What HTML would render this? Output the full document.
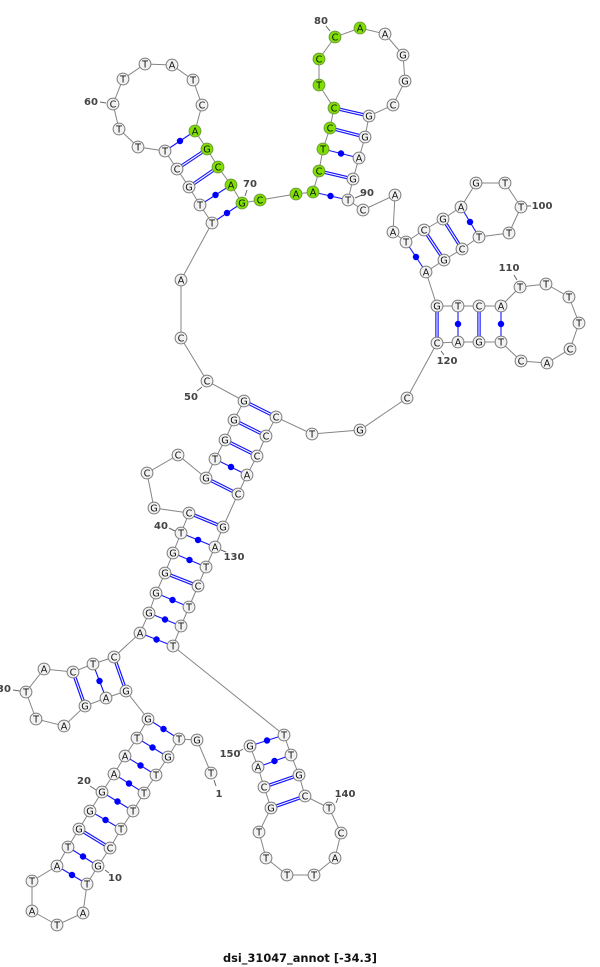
<!DOCTYPE html>
<html><head><meta charset="utf-8"><style>
html,body{margin:0;padding:0;background:#fff}
svg{display:block;font-family:"DejaVu Sans","Liberation Sans",sans-serif}
.n circle{fill:#f2f2f2;stroke:#7a7a7a;stroke-width:1;r:5.9px}
.g circle{fill:#7fe000;stroke:#6f9a3a;stroke-width:1;r:5.9px}
.n text,.g text{font-size:9.6px;text-anchor:middle;fill:#111;transform:translateY(.5px)}
.l{font-size:10px;font-weight:bold;fill:#444;text-anchor:middle;font-family:"DejaVu Sans",sans-serif}
</style></head><body>
<svg width="600" height="967" viewBox="0 0 600 967" xmlns="http://www.w3.org/2000/svg">
<polyline fill="none" stroke="#858585" stroke-width="1" points="211,773 197,740 179,739 168,757 156,775 144,793 133,811 121,829 110,848 98,866 87,884 83,913 57,925 32,911 32,881 57,866 68,847 79,829 90,811 102,792 114,774 125,756 137,738 148,719 126,691 106,698 85,706 64,726 36,719 26,692 44,669 73,672 93,664 114,657 140,633 149,613 156,593 165,573 173,553 181,533 189,513 154,508 147,473 178,455 206,478 215,459 225,440 234,420 244,401 207,381 181,338 181,280 212,223 200,205 189,187 177,169 165,151 138,147 119,129 113,104 123,79 145,64 172,65 193,80 202,105 195,131 207,149 218,167 231,185 242,203 260,200 296,194 313,192 319,171 323,149 330,128 334,108 319,85 319,59 335,37 360,28 385,34 403,55 405,81 393,105 369,116 365,137 359,158 353,179 348,200 363,210 395,195 393,232 406,242 424,230 443,219 461,207 476,183 505,183 521,207 509,233 479,237 462,249 444,260 426,272 437,306 458,306 479,306 501,306 520,287 546,284 569,297 579,323 570,349 547,363 521,361 501,342 479,342 458,342 437,343 407,398 360,430 312,434 276,417 266,436 257,456 247,475 238,494 223,527 215,547 206,567 198,586 189,607 181,626 173,646 284,735 291,755 299,775 305,796 329,808 341,833 335,858 314,875 287,875 266,858 259,832 271,808 264,787 258,767 250,746"/>
<path fill="none" stroke="#1414ff" stroke-width="1.1" d="M148 719L179 739M168 757L137 738M156 775L125 756M144 793L114 774M133 811L102 792M121 829L90 811M98 866L68 847M87 884L57 866M93 664L106 698M140 633L173 646M149 613L181 626M156 593L189 607M173 553L206 567M181 533L215 547M215 459L247 475M212 223L242 203M200 205L231 185M165 151L195 131M313 192L348 200M323 149L359 158M406 242L426 272M461 207L479 237M458 306L458 342M501 306L501 342M284 735L250 746M291 755L258 767"/>
<defs><path id="d" d="M110 848L79 829M114 657L126 691M73 672L85 706M165 573L198 586M189 513L223 527M206 478L238 494M225 440L257 456M234 420L266 436M244 401L276 417M189 187L218 167M177 169L207 149M319 171L353 179M330 128L365 137M334 108L369 116M424 230L444 260M443 219L462 249M437 306L437 343M479 306L479 342M299 775L264 787M305 796L271 808"/></defs>
<use href="#d" fill="none" stroke="#1414ff" stroke-width="3.4"/>
<use href="#d" fill="none" stroke="#fff" stroke-width="1.1"/>
<path fill="none" stroke="#0000ff" stroke-width="6.4" stroke-linecap="round" d="M163.5 729h.01M152.5 747.5h.01M140.5 765.5h.01M129 783.5h.01M117.5 801.5h.01M105.5 820h.01M83 856.5h.01M72 875h.01M99.5 681h.01M156.5 639.5h.01M165 619.5h.01M172.5 600h.01M189.5 560h.01M198 540h.01M231 467h.01M227 213h.01M215.5 195h.01M180 141h.01M330.5 196h.01M341 153.5h.01M416 257h.01M470 222h.01M458 324h.01M501 324h.01M267 740.5h.01M274.5 761h.01"/>
<path fill="none" stroke="#666" stroke-width="1" d="M100 102L106 103M247 190L245 196M326 26L330 31M362 195L355 198M531 206L527 206M514 275L517 280M441 351L444 355M197 391L202 387M169 528L175 531M226 552L221 550M13 690L20 691M90 786L96 790M109 873L105 870M338 798L336 803M238 752L243 749M214 780L216 786"/>
<g class="n">
<g transform="translate(211,773)"><circle r="5.5"/><text y="3">T</text></g>
<g transform="translate(197,740)"><circle r="5.5"/><text y="3">G</text></g>
<g transform="translate(179,739)"><circle r="5.5"/><text y="3">T</text></g>
<g transform="translate(168,757)"><circle r="5.5"/><text y="3">G</text></g>
<g transform="translate(156,775)"><circle r="5.5"/><text y="3">T</text></g>
<g transform="translate(144,793)"><circle r="5.5"/><text y="3">T</text></g>
<g transform="translate(133,811)"><circle r="5.5"/><text y="3">T</text></g>
<g transform="translate(121,829)"><circle r="5.5"/><text y="3">T</text></g>
<g transform="translate(110,848)"><circle r="5.5"/><text y="3">C</text></g>
<g transform="translate(98,866)"><circle r="5.5"/><text y="3">G</text></g>
<g transform="translate(87,884)"><circle r="5.5"/><text y="3">T</text></g>
<g transform="translate(83,913)"><circle r="5.5"/><text y="3">A</text></g>
<g transform="translate(57,925)"><circle r="5.5"/><text y="3">T</text></g>
<g transform="translate(32,911)"><circle r="5.5"/><text y="3">A</text></g>
<g transform="translate(32,881)"><circle r="5.5"/><text y="3">T</text></g>
<g transform="translate(57,866)"><circle r="5.5"/><text y="3">A</text></g>
<g transform="translate(68,847)"><circle r="5.5"/><text y="3">T</text></g>
<g transform="translate(79,829)"><circle r="5.5"/><text y="3">G</text></g>
<g transform="translate(90,811)"><circle r="5.5"/><text y="3">G</text></g>
<g transform="translate(102,792)"><circle r="5.5"/><text y="3">G</text></g>
<g transform="translate(114,774)"><circle r="5.5"/><text y="3">A</text></g>
<g transform="translate(125,756)"><circle r="5.5"/><text y="3">A</text></g>
<g transform="translate(137,738)"><circle r="5.5"/><text y="3">T</text></g>
<g transform="translate(148,719)"><circle r="5.5"/><text y="3">G</text></g>
<g transform="translate(126,691)"><circle r="5.5"/><text y="3">G</text></g>
<g transform="translate(106,698)"><circle r="5.5"/><text y="3">A</text></g>
<g transform="translate(85,706)"><circle r="5.5"/><text y="3">G</text></g>
<g transform="translate(64,726)"><circle r="5.5"/><text y="3">A</text></g>
<g transform="translate(36,719)"><circle r="5.5"/><text y="3">T</text></g>
<g transform="translate(26,692)"><circle r="5.5"/><text y="3">T</text></g>
<g transform="translate(44,669)"><circle r="5.5"/><text y="3">A</text></g>
<g transform="translate(73,672)"><circle r="5.5"/><text y="3">C</text></g>
<g transform="translate(93,664)"><circle r="5.5"/><text y="3">T</text></g>
<g transform="translate(114,657)"><circle r="5.5"/><text y="3">C</text></g>
<g transform="translate(140,633)"><circle r="5.5"/><text y="3">A</text></g>
<g transform="translate(149,613)"><circle r="5.5"/><text y="3">G</text></g>
<g transform="translate(156,593)"><circle r="5.5"/><text y="3">G</text></g>
<g transform="translate(165,573)"><circle r="5.5"/><text y="3">G</text></g>
<g transform="translate(173,553)"><circle r="5.5"/><text y="3">G</text></g>
<g transform="translate(181,533)"><circle r="5.5"/><text y="3">T</text></g>
<g transform="translate(189,513)"><circle r="5.5"/><text y="3">C</text></g>
<g transform="translate(154,508)"><circle r="5.5"/><text y="3">G</text></g>
<g transform="translate(147,473)"><circle r="5.5"/><text y="3">C</text></g>
<g transform="translate(178,455)"><circle r="5.5"/><text y="3">C</text></g>
<g transform="translate(206,478)"><circle r="5.5"/><text y="3">G</text></g>
<g transform="translate(215,459)"><circle r="5.5"/><text y="3">T</text></g>
<g transform="translate(225,440)"><circle r="5.5"/><text y="3">G</text></g>
<g transform="translate(234,420)"><circle r="5.5"/><text y="3">G</text></g>
<g transform="translate(244,401)"><circle r="5.5"/><text y="3">G</text></g>
<g transform="translate(207,381)"><circle r="5.5"/><text y="3">C</text></g>
<g transform="translate(181,338)"><circle r="5.5"/><text y="3">C</text></g>
<g transform="translate(181,280)"><circle r="5.5"/><text y="3">A</text></g>
<g transform="translate(212,223)"><circle r="5.5"/><text y="3">T</text></g>
<g transform="translate(200,205)"><circle r="5.5"/><text y="3">T</text></g>
<g transform="translate(189,187)"><circle r="5.5"/><text y="3">G</text></g>
<g transform="translate(177,169)"><circle r="5.5"/><text y="3">C</text></g>
<g transform="translate(165,151)"><circle r="5.5"/><text y="3">T</text></g>
<g transform="translate(138,147)"><circle r="5.5"/><text y="3">T</text></g>
<g transform="translate(119,129)"><circle r="5.5"/><text y="3">T</text></g>
<g transform="translate(113,104)"><circle r="5.5"/><text y="3">C</text></g>
<g transform="translate(123,79)"><circle r="5.5"/><text y="3">T</text></g>
<g transform="translate(145,64)"><circle r="5.5"/><text y="3">T</text></g>
<g transform="translate(172,65)"><circle r="5.5"/><text y="3">A</text></g>
<g transform="translate(193,80)"><circle r="5.5"/><text y="3">T</text></g>
<g transform="translate(202,105)"><circle r="5.5"/><text y="3">C</text></g>
<g transform="translate(385,34)"><circle r="5.5"/><text y="3">A</text></g>
<g transform="translate(403,55)"><circle r="5.5"/><text y="3">G</text></g>
<g transform="translate(405,81)"><circle r="5.5"/><text y="3">G</text></g>
<g transform="translate(393,105)"><circle r="5.5"/><text y="3">C</text></g>
<g transform="translate(369,116)"><circle r="5.5"/><text y="3">G</text></g>
<g transform="translate(365,137)"><circle r="5.5"/><text y="3">G</text></g>
<g transform="translate(359,158)"><circle r="5.5"/><text y="3">A</text></g>
<g transform="translate(353,179)"><circle r="5.5"/><text y="3">G</text></g>
<g transform="translate(348,200)"><circle r="5.5"/><text y="3">T</text></g>
<g transform="translate(363,210)"><circle r="5.5"/><text y="3">C</text></g>
<g transform="translate(395,195)"><circle r="5.5"/><text y="3">A</text></g>
<g transform="translate(393,232)"><circle r="5.5"/><text y="3">A</text></g>
<g transform="translate(406,242)"><circle r="5.5"/><text y="3">T</text></g>
<g transform="translate(424,230)"><circle r="5.5"/><text y="3">C</text></g>
<g transform="translate(443,219)"><circle r="5.5"/><text y="3">G</text></g>
<g transform="translate(461,207)"><circle r="5.5"/><text y="3">A</text></g>
<g transform="translate(476,183)"><circle r="5.5"/><text y="3">G</text></g>
<g transform="translate(505,183)"><circle r="5.5"/><text y="3">T</text></g>
<g transform="translate(521,207)"><circle r="5.5"/><text y="3">T</text></g>
<g transform="translate(509,233)"><circle r="5.5"/><text y="3">T</text></g>
<g transform="translate(479,237)"><circle r="5.5"/><text y="3">T</text></g>
<g transform="translate(462,249)"><circle r="5.5"/><text y="3">C</text></g>
<g transform="translate(444,260)"><circle r="5.5"/><text y="3">G</text></g>
<g transform="translate(426,272)"><circle r="5.5"/><text y="3">A</text></g>
<g transform="translate(437,306)"><circle r="5.5"/><text y="3">G</text></g>
<g transform="translate(458,306)"><circle r="5.5"/><text y="3">T</text></g>
<g transform="translate(479,306)"><circle r="5.5"/><text y="3">C</text></g>
<g transform="translate(501,306)"><circle r="5.5"/><text y="3">A</text></g>
<g transform="translate(520,287)"><circle r="5.5"/><text y="3">T</text></g>
<g transform="translate(546,284)"><circle r="5.5"/><text y="3">T</text></g>
<g transform="translate(569,297)"><circle r="5.5"/><text y="3">T</text></g>
<g transform="translate(579,323)"><circle r="5.5"/><text y="3">T</text></g>
<g transform="translate(570,349)"><circle r="5.5"/><text y="3">C</text></g>
<g transform="translate(547,363)"><circle r="5.5"/><text y="3">A</text></g>
<g transform="translate(521,361)"><circle r="5.5"/><text y="3">C</text></g>
<g transform="translate(501,342)"><circle r="5.5"/><text y="3">T</text></g>
<g transform="translate(479,342)"><circle r="5.5"/><text y="3">G</text></g>
<g transform="translate(458,342)"><circle r="5.5"/><text y="3">A</text></g>
<g transform="translate(437,343)"><circle r="5.5"/><text y="3">C</text></g>
<g transform="translate(407,398)"><circle r="5.5"/><text y="3">C</text></g>
<g transform="translate(360,430)"><circle r="5.5"/><text y="3">G</text></g>
<g transform="translate(312,434)"><circle r="5.5"/><text y="3">T</text></g>
<g transform="translate(276,417)"><circle r="5.5"/><text y="3">C</text></g>
<g transform="translate(266,436)"><circle r="5.5"/><text y="3">C</text></g>
<g transform="translate(257,456)"><circle r="5.5"/><text y="3">C</text></g>
<g transform="translate(247,475)"><circle r="5.5"/><text y="3">A</text></g>
<g transform="translate(238,494)"><circle r="5.5"/><text y="3">C</text></g>
<g transform="translate(223,527)"><circle r="5.5"/><text y="3">G</text></g>
<g transform="translate(215,547)"><circle r="5.5"/><text y="3">A</text></g>
<g transform="translate(206,567)"><circle r="5.5"/><text y="3">T</text></g>
<g transform="translate(198,586)"><circle r="5.5"/><text y="3">C</text></g>
<g transform="translate(189,607)"><circle r="5.5"/><text y="3">T</text></g>
<g transform="translate(181,626)"><circle r="5.5"/><text y="3">T</text></g>
<g transform="translate(173,646)"><circle r="5.5"/><text y="3">T</text></g>
<g transform="translate(284,735)"><circle r="5.5"/><text y="3">T</text></g>
<g transform="translate(291,755)"><circle r="5.5"/><text y="3">T</text></g>
<g transform="translate(299,775)"><circle r="5.5"/><text y="3">G</text></g>
<g transform="translate(305,796)"><circle r="5.5"/><text y="3">C</text></g>
<g transform="translate(329,808)"><circle r="5.5"/><text y="3">T</text></g>
<g transform="translate(341,833)"><circle r="5.5"/><text y="3">C</text></g>
<g transform="translate(335,858)"><circle r="5.5"/><text y="3">A</text></g>
<g transform="translate(314,875)"><circle r="5.5"/><text y="3">T</text></g>
<g transform="translate(287,875)"><circle r="5.5"/><text y="3">T</text></g>
<g transform="translate(266,858)"><circle r="5.5"/><text y="3">T</text></g>
<g transform="translate(259,832)"><circle r="5.5"/><text y="3">T</text></g>
<g transform="translate(271,808)"><circle r="5.5"/><text y="3">G</text></g>
<g transform="translate(264,787)"><circle r="5.5"/><text y="3">C</text></g>
<g transform="translate(258,767)"><circle r="5.5"/><text y="3">A</text></g>
<g transform="translate(250,746)"><circle r="5.5"/><text y="3">G</text></g>
</g>
<g class="g">
<g transform="translate(195,131)"><circle r="5.5"/><text y="3">A</text></g>
<g transform="translate(207,149)"><circle r="5.5"/><text y="3">G</text></g>
<g transform="translate(218,167)"><circle r="5.5"/><text y="3">C</text></g>
<g transform="translate(231,185)"><circle r="5.5"/><text y="3">A</text></g>
<g transform="translate(242,203)"><circle r="5.5"/><text y="3">G</text></g>
<g transform="translate(260,200)"><circle r="5.5"/><text y="3">C</text></g>
<g transform="translate(296,194)"><circle r="5.5"/><text y="3">A</text></g>
<g transform="translate(313,192)"><circle r="5.5"/><text y="3">A</text></g>
<g transform="translate(319,171)"><circle r="5.5"/><text y="3">C</text></g>
<g transform="translate(323,149)"><circle r="5.5"/><text y="3">T</text></g>
<g transform="translate(330,128)"><circle r="5.5"/><text y="3">C</text></g>
<g transform="translate(334,108)"><circle r="5.5"/><text y="3">C</text></g>
<g transform="translate(319,85)"><circle r="5.5"/><text y="3">T</text></g>
<g transform="translate(319,59)"><circle r="5.5"/><text y="3">C</text></g>
<g transform="translate(335,37)"><circle r="5.5"/><text y="3">C</text></g>
<g transform="translate(360,28)"><circle r="5.5"/><text y="3">A</text></g>
</g>
<g class="l">
<text x="91" y="105">60</text>
<text x="250" y="187">70</text>
<text x="321" y="24">80</text>
<text x="367" y="196">90</text>
<text x="542" y="209">100</text>
<text x="509" y="271">110</text>
<text x="447" y="364">120</text>
<text x="191" y="400">50</text>
<text x="161" y="529">40</text>
<text x="234" y="560">130</text>
<text x="4" y="692">30</text>
<text x="84" y="784">20</text>
<text x="115" y="881">10</text>
<text x="345" y="797">140</text>
<text x="230" y="757">150</text>
<text x="219" y="797">1</text>
</g>
<text x="223" y="962" textLength="154" lengthAdjust="spacingAndGlyphs" font-size="11.5" font-weight="bold" fill="#111" font-family="DejaVu Sans, sans-serif">dsi_31047_annot [-34.3]</text>
</svg>
</body></html>
